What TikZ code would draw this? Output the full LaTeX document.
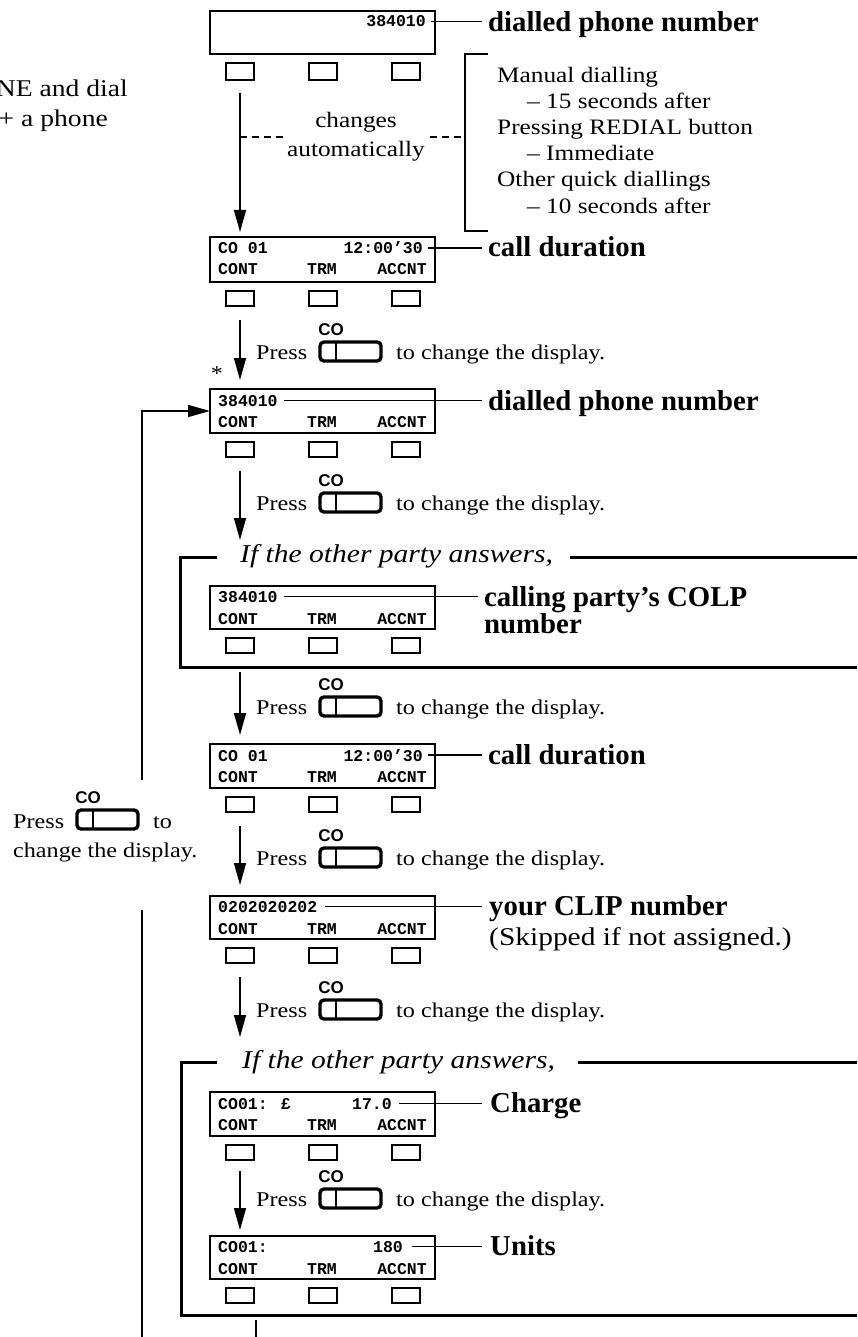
\documentclass[tikz,border=0pt]{standalone}
\usepackage{fontspec}
\setmainfont{Liberation Serif}
\newfontfamily\rmS{Liberation Serif}[FakeStretch=1.15]
\newfontfamily\monoF{Liberation Mono}
\newfontfamily\sansF{Liberation Sans}
\usetikzlibrary{arrows.meta,calc}

\newcommand\cobutton[3]{%
  \node[cobtn] (#1) at (#2,#3) {};
  \draw[divl] ($(#1.north west)+(16,0)$) -- ($(#1.south west)+(16,0)$);
  \node[colbl] (#1l) at ($(#1.north west)+(11,-7)$) {CO};
}
\newcommand\pressrow[2]{%
  \node[ptxt] (#1a) at (256,#2+17) {Press};
  \cobutton{#1b}{320}{#2}
  \node[ptxt] (#1c) at (396,#2+17) {to change the display.};
}
\newcommand\mkdisplay[3]{%
  \node[disp,minimum height=#3pt] (#1) at (210,#2) {};
  \node[dtxt,anchor=base west] (#1c) at (218,#2+38) {CONT};
  \node[dtxt,anchor=base] (#1r) at (322,#2+38) {TRM};
  \node[dtxt,anchor=base east] (#1x) at (427,#2+38) {ACCNT};
  \node[btn] (#1ba) at (240,#2+#3+9) {};
  \node[btn] (#1bb) at (322.5,#2+#3+9) {};
  \node[btn] (#1bc) at (405.5,#2+#3+9) {};
}

\begin{document}
\begin{tikzpicture}[x=1pt,y=-1pt,
  disp/.style={draw,line width=2.4pt,rectangle,inner sep=0pt,outer sep=0pt,minimum width=225pt,anchor=north west},
  btn/.style={draw,line width=2pt,inner sep=0pt,outer sep=0pt,minimum width=28pt,minimum height=15pt,anchor=north},
  dtxt/.style={font=\monoF\bfseries\fontsize{16.5pt}{16.5pt}\selectfont,inner sep=0pt},
  lab/.style={font=\bfseries\fontsize{28.8pt}{28.8pt}\selectfont,inner sep=0pt,anchor=base west},
  ptxt/.style={font=\rmS\fontsize{21pt}{21pt}\selectfont,inner sep=0pt,anchor=base west},
  note/.style={font=\rmS\fontsize{22pt}{22pt}\selectfont,inner sep=0pt,anchor=base west},
  bignote/.style={font=\rmS\fontsize{25.6pt}{25.6pt}\selectfont,inner sep=0pt,anchor=base west},
  lefttxt/.style={font=\rmS\fontsize{24pt}{24pt}\selectfont,inner sep=0pt,anchor=base east},
  ital/.style={font=\rmS\itshape\fontsize{25.7pt}{25.7pt}\selectfont,inner sep=0pt,anchor=base west},
  cobtn/.style={draw,line width=3.4pt,rounded corners=4pt,inner sep=0pt,outer sep=0pt,minimum width=61pt,minimum height=19pt,anchor=north west},
  divl/.style={line width=1.4pt},
  colbl/.style={font=\sansF\bfseries\fontsize{17pt}{17pt}\selectfont,inner sep=0pt,anchor=base},
  leader/.style={line width=1.3pt},
  arr/.style={line width=1.5pt,-{Triangle[length=22pt,width=12pt]}},
  conn/.style={line width=1.6pt},
  dsh/.style={line width=1.5pt,dash pattern=on 7pt off 5pt},
  frame/.style={line width=3pt},
]
\clip (0,0) rectangle (857,1337);

% left clipped text
\node[lefttxt] (lf1) at (128,97) {NE and dial};
\node[lefttxt] (lf2) at (108,127) {+ a phone};

% display 1
\node[disp,minimum height=43pt] (d1) at (210,11) {};
\node[dtxt,anchor=base east] (d1t) at (426,27) {384010};
\node[lab] (d1l) at (488,32) {dialled phone number};
\draw[leader] ($(d1t.east)+(5,0)$) -- ($(d1l.west |- d1t.east)+(-6,0)$);
\node[btn,minimum height=17pt] (d1ba) at (240,63) {};
\node[btn,minimum height=17pt] (d1bb) at (322.5,63) {};
\node[btn,minimum height=17pt] (d1bc) at (405.5,63) {};

% changes automatically
\node[note,anchor=base] (chg1) at (356,128) {changes};
\node[note,anchor=base] (chg2) at (356,157) {automatically};
\coordinate (da1) at (240,137);
\coordinate (da2) at (285,137);
\coordinate (da3) at (430,137);
\coordinate (br2) at (465,137);
\draw[dsh] (da1) -- (da2);
\draw[dsh] (da3) -- (br2);
\coordinate (br0) at (488,54);
\coordinate (br1) at (465,54);
\coordinate (br3) at (465,231);
\coordinate (br4) at (488,231);
\draw[conn] (br0) -- (br1) -- (br3) -- (br4);
\node[note] (n1) at (497,83) {Manual dialling};
\node[note] (n2) at (527,109) {– 15 seconds after};
\node[note] (n3) at (497,135) {Pressing REDIAL button};
\node[note] (n4) at (527,161) {– Immediate};
\node[note] (n5) at (497,187) {Other quick diallings};
\node[note] (n6) at (527,214) {– 10 seconds after};

% display 2
\mkdisplay{d2}{237}{45}
\node[dtxt,anchor=base west] (d2a) at (218,254) {CO 01};
\node[dtxt,anchor=base east] (d2t) at (423,254) {12:00’30};
\node[lab] (d2l) at (488,257) {call duration};
\draw[leader] ($(d2t.east)+(5,0)$) -- ($(d2l.west |- d2t.east)+(-6,0)$);
\draw[arr] ($(d1ba.south)+(0,13)$) -- ($(d2.north -| d1ba)+(0,-5)$);

% press row 1
\pressrow{pa}{342}
\node[ptxt,anchor=center] (ast) at (217,374) {*};

% display 3
\mkdisplay{d3}{389}{44}
\node[dtxt,anchor=base west] (d3t) at (218,406) {384010};
\node[lab] (d3l) at (488,410) {dialled phone number};
\draw[leader] ($(d3t.east)+(6,0)$) -- ($(d3l.west |- d3t.east)+(-6,0)$);
\draw[arr] ($(d2ba.south)+(0,14)$) -- ($(d3.north -| d2ba)+(0,-9)$);

% press row 2
\pressrow{pb}{493}
\coordinate (f1arr) at (240,540);
\draw[arr] ($(d3ba.south)+(0,14)$) -- (f1arr);

% frame 1
\node[ital] (f1t) at (240,562) {If the other party answers,};
\coordinate (f1a) at (217,557);
\coordinate (f1b) at (180,557);
\coordinate (f1c) at (180,667);
\coordinate (f1d) at (857,667);
\coordinate (f1e) at (570,557);
\coordinate (f1f) at (857,557);
\draw[frame] (f1a) -- (f1b) -- (f1c) -- (f1d);
\draw[frame] (f1e) -- (f1f);

% display 4 (COLP)
\mkdisplay{d4}{586}{43}
\node[dtxt,anchor=base west] (d4t) at (218,602) {384010};
\node[lab] (d4l) at (484,606) {calling party’s COLP};
\node[lab] (d4m) at (484,633) {number};
\draw[leader] ($(d4t.east)+(6,0)$) -- ($(d4l.west |- d4t.east)+(-6,0)$);

% press row 3
\pressrow{pc}{697}

% display 5
\mkdisplay{d5}{744}{44}
\node[dtxt,anchor=base west] (d5a) at (218,761) {CO 01};
\node[dtxt,anchor=base east] (d5t) at (423,761) {12:00’30};
\node[lab] (d5l) at (488,764) {call duration};
\draw[leader] ($(d5t.east)+(5,0)$) -- ($(d5l.west |- d5t.east)+(-6,0)$);
\draw[arr] ($(f1c -| d4ba)+(0,5)$) -- ($(d5.north -| d4ba)+(0,-9)$);

% press row 4
\pressrow{pd}{848}

% display 6 (CLIP)
\mkdisplay{d6}{896}{43}
\node[dtxt,anchor=base west] (d6t) at (218,912) {0202020202};
\node[lab] (d6l) at (489,915) {your CLIP number};
\node[bignote] (d6m) at (489,945) {(Skipped if not assigned.)};
\draw[leader] ($(d6t.east)+(8,0)$) -- ($(d6l.west |- d6t.east)+(-7,0)$);
\draw[arr] ($(d5ba.south)+(0,14)$) -- ($(d6.north -| d5ba)+(0,-11)$);

% press row 5
\pressrow{pe}{1000}
\coordinate (f2arr) at (240,1037);
\draw[arr] ($(d6ba.south)+(0,14)$) -- (f2arr);

% frame 2
\node[ital] (f2t) at (242,1068) {If the other party answers,};
\coordinate (f2a) at (217,1062);
\coordinate (f2b) at (181,1062);
\coordinate (f2c) at (181,1315);
\coordinate (f2d) at (857,1315);
\coordinate (f2e) at (578,1062);
\coordinate (f2f) at (857,1062);
\draw[frame] (f2a) -- (f2b) -- (f2c) -- (f2d);
\draw[frame] (f2e) -- (f2f);

% display 7 (Charge)
\mkdisplay{d7}{1092}{44}
\node[dtxt,anchor=base west] (d7a) at (218,1109) {CO01: £};
\node[dtxt,anchor=base east] (d7t) at (392,1109) {17.0};
\node[lab] (d7l) at (490,1112) {Charge};
\draw[leader] ($(d7t.east)+(7,0)$) -- ($(d7l.west |- d7t.east)+(-8,0)$);

% press row 6
\pressrow{pf}{1189}

% display 8 (Units)
\mkdisplay{d8}{1236}{43}
\node[dtxt,anchor=base west] (d8a) at (218,1252) {CO01:};
\node[dtxt,anchor=base east] (d8t) at (403,1252) {180};
\node[lab] (d8l) at (490,1255) {Units};
\draw[leader] ($(d8t.east)+(9,0)$) -- ($(d8l.west |- d8t.east)+(-8,0)$);
\draw[arr] ($(d7ba.south)+(0,11)$) -- ($(d8.north -| d7ba)+(0,-6)$);

% line leaving bottom
\coordinate (bt1) at (256,1320);
\coordinate (bt2) at (256,1337);
\draw[conn] (bt1) -- (bt2);

% left feedback loop
\node[ptxt] (lpa) at (13,828) {Press};
\cobutton{lpb}{77}{810}
\node[ptxt] (lpc) at (153,828) {to};
\node[ptxt] (lpd) at (13,857) {change the display.};
\coordinate (fb1) at (142,780);
\coordinate (fb2) at (142,910);
\coordinate (fb3) at (142,1337);
\draw[arr] (fb1) |- (d3.west);
\draw[conn] (fb2) -- (fb3);
\end{tikzpicture}
\end{document}
